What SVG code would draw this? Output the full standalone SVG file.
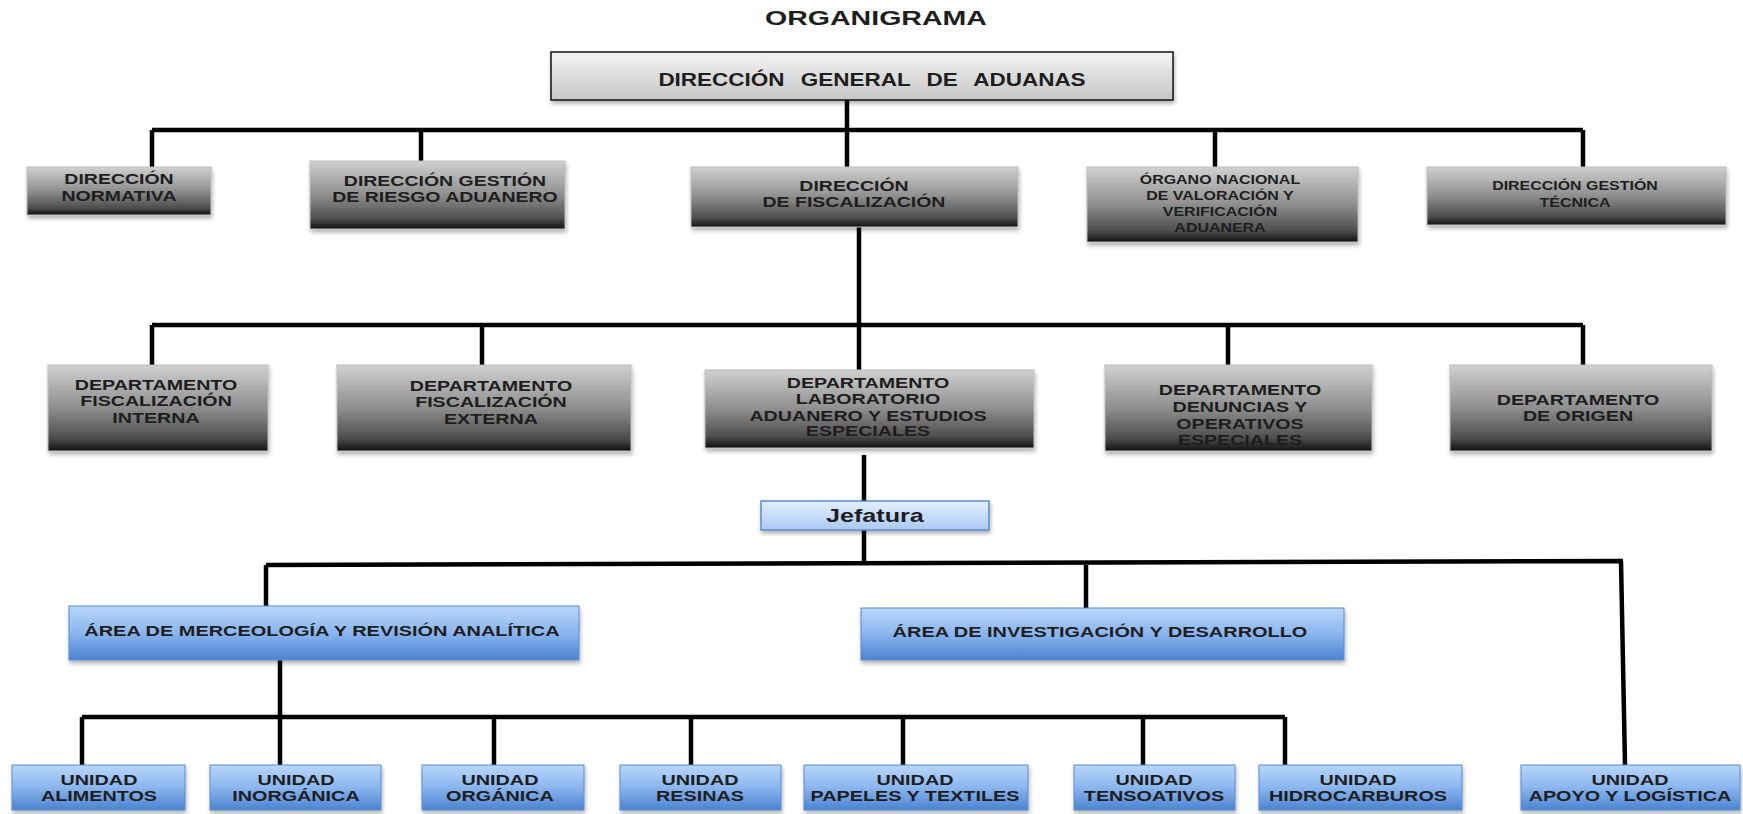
<svg xmlns="http://www.w3.org/2000/svg" width="1743" height="814" viewBox="0 0 1743 814">
<defs>
<linearGradient id="gGray" x1="0" y1="0" x2="0" y2="1">
<stop offset="0" stop-color="#d0d0d0"/>
<stop offset="0.5" stop-color="#8e8e8e"/>
<stop offset="0.85" stop-color="#4e4e4e"/>
<stop offset="1" stop-color="#111111"/>
</linearGradient>
<linearGradient id="gTop" x1="0" y1="0" x2="0" y2="1">
<stop offset="0" stop-color="#f4f4f4"/>
<stop offset="1" stop-color="#c6c6c6"/>
</linearGradient>
<linearGradient id="gBlue" x1="0" y1="0" x2="0" y2="1">
<stop offset="0" stop-color="#b9d6fb"/>
<stop offset="0.5" stop-color="#8ab5ee"/>
<stop offset="1" stop-color="#4b83d0"/>
</linearGradient>
<linearGradient id="gJef" x1="0" y1="0" x2="0" y2="1">
<stop offset="0" stop-color="#e4efff"/>
<stop offset="1" stop-color="#a9c9f5"/>
</linearGradient>
<filter id="sh" x="-5%" y="-10%" width="110%" height="130%">
<feDropShadow dx="1" dy="3" stdDeviation="2" flood-color="#000" flood-opacity="0.3"/>
</filter>
</defs>
<style>
text{font-family:"Liberation Sans",Arial,sans-serif;font-weight:bold;fill:#1e1e1e;text-anchor:middle;transform-box:fill-box;transform-origin:center}
.gray{fill:url(#gGray);stroke:#bdbdbd;stroke-width:1;filter:url(#sh)}
.blue{fill:url(#gBlue);stroke:#5a8bd0;stroke-width:1;filter:url(#sh)}
.title{font-size:21px;transform:scaleX(1.36)}
.top{font-size:18px;word-spacing:8px;transform:scaleX(1.25)}
.t2{font-size:15px;transform:scaleX(1.3)}
.t2s{font-size:12px;transform:scaleX(1.33)}
.t3{font-size:15px;transform:scaleX(1.31)}
.tu{font-size:15px;transform:scaleX(1.32)}
.ta{font-size:15px;transform:scaleX(1.33)}
.tj{font-size:18px;transform:scaleX(1.4)}
.conn{fill:none;stroke:#000;stroke-width:4.5}
</style>
<rect width="1743" height="814" fill="#ffffff"/>
<text class="title" x="876" y="25">ORGANIGRAMA</text>

<g id="connectors">
<path class="conn" d="M847 100V130M152 130H1583M152 130V167M421 130V161M847 130V167M1215 130V167M1583 130V167"/>
<path class="conn" d="M859 227V325M152 325H1583M152 325V365M482 325V365M859 325V370M1228 325V365M1583 325V365"/>
<path class="conn" d="M864 455V501M864 530V565M266 565L1623 561M266 565V606M1086 564V608M1621 561L1625 765"/>
<path class="conn" d="M280 660V717M82 717H1285M82 717V765M280 717V765M494 717V765M691 717V765M903 717V765M1143 717V765M1285 717V765"/>
</g>

<g id="n-direccion-general">
<rect x="551" y="52" width="622" height="48" fill="url(#gTop)" stroke="#111" stroke-width="1.5" filter="url(#sh)"/>
<text class="top" x="872" y="86">DIRECCIÓN GENERAL DE ADUANAS</text>
</g>

<g id="n-dir-normativa">
<rect class="gray" x="27" y="167" width="184" height="48"/>
<text class="t2" x="119" y="184">DIRECCIÓN</text>
<text class="t2" x="119" y="201">NORMATIVA</text>
</g>
<g id="n-dir-riesgo">
<rect class="gray" x="310" y="161" width="255" height="68"/>
<text class="t2" x="445" y="186">DIRECCIÓN GESTIÓN</text>
<text class="t2" x="445" y="202">DE RIESGO ADUANERO</text>
</g>
<g id="n-dir-fiscalizacion">
<rect class="gray" x="691" y="167" width="327" height="60"/>
<text class="t2" x="854" y="191">DIRECCIÓN</text>
<text class="t2" x="854" y="207">DE FISCALIZACIÓN</text>
</g>
<g id="n-organo">
<rect class="gray" x="1087" y="167" width="271" height="75"/>
<text class="t2s" x="1220" y="184">ÓRGANO NACIONAL</text>
<text class="t2s" x="1220" y="200">DE VALORACIÓN Y</text>
<text class="t2s" x="1220" y="216">VERIFICACIÓN</text>
<text class="t2s" x="1220" y="232">ADUANERA</text>
</g>
<g id="n-dir-tecnica">
<rect class="gray" x="1427" y="167" width="299" height="58"/>
<text class="t2s" x="1575" y="190">DIRECCIÓN GESTIÓN</text>
<text class="t2s" x="1575" y="207">TÉCNICA</text>
</g>

<g id="n-dep-interna">
<rect class="gray" x="48" y="365" width="220" height="86"/>
<text class="t3" x="156" y="390">DEPARTAMENTO</text>
<text class="t3" x="156" y="406">FISCALIZACIÓN</text>
<text class="t3" x="156" y="423">INTERNA</text>
</g>
<g id="n-dep-externa">
<rect class="gray" x="337" y="365" width="294" height="86"/>
<text class="t3" x="491" y="391">DEPARTAMENTO</text>
<text class="t3" x="491" y="407">FISCALIZACIÓN</text>
<text class="t3" x="491" y="424">EXTERNA</text>
</g>
<g id="n-dep-laboratorio">
<rect class="gray" x="705" y="370" width="329" height="78"/>
<text class="t3" x="868" y="388">DEPARTAMENTO</text>
<text class="t3" x="868" y="404">LABORATORIO</text>
<text class="t3" x="868" y="421">ADUANERO Y ESTUDIOS</text>
<text class="t3" x="868" y="436">ESPECIALES</text>
</g>
<g id="n-dep-denuncias">
<rect class="gray" x="1105" y="365" width="267" height="86"/>
<text class="t3" x="1240" y="395">DEPARTAMENTO</text>
<text class="t3" x="1240" y="412">DENUNCIAS Y</text>
<text class="t3" x="1240" y="429">OPERATIVOS</text>
<text class="t3" x="1240" y="445">ESPECIALES</text>
</g>
<g id="n-dep-origen">
<rect class="gray" x="1450" y="365" width="262" height="86"/>
<text class="t3" x="1578" y="405">DEPARTAMENTO</text>
<text class="t3" x="1578" y="421">DE ORIGEN</text>
</g>

<g id="n-jefatura">
<rect x="761" y="501" width="228" height="29" fill="url(#gJef)" stroke="#5a8bd0" stroke-width="1.5" filter="url(#sh)"/>
<text class="tj" x="875" y="522">Jefatura</text>
</g>

<g id="n-area-merceologia">
<rect class="blue" x="69" y="606" width="510" height="54"/>
<text class="ta" x="322" y="636">ÁREA DE MERCEOLOGÍA Y REVISIÓN ANALÍTICA</text>
</g>
<g id="n-area-investigacion">
<rect class="blue" x="861" y="608" width="483" height="52"/>
<text class="ta" x="1100" y="637">ÁREA DE INVESTIGACIÓN Y DESARROLLO</text>
</g>

<g id="n-u-alimentos">
<rect class="blue" x="12" y="765" width="173" height="45"/>
<text class="tu" x="99" y="785">UNIDAD</text>
<text class="tu" x="99" y="801">ALIMENTOS</text>
</g>
<g id="n-u-inorganica">
<rect class="blue" x="210" y="765" width="171" height="45"/>
<text class="tu" x="296" y="785">UNIDAD</text>
<text class="tu" x="296" y="801">INORGÁNICA</text>
</g>
<g id="n-u-organica">
<rect class="blue" x="422" y="765" width="162" height="45"/>
<text class="tu" x="500" y="785">UNIDAD</text>
<text class="tu" x="500" y="801">ORGÁNICA</text>
</g>
<g id="n-u-resinas">
<rect class="blue" x="620" y="765" width="161" height="45"/>
<text class="tu" x="700" y="785">UNIDAD</text>
<text class="tu" x="700" y="801">RESINAS</text>
</g>
<g id="n-u-papeles">
<rect class="blue" x="804" y="765" width="224" height="45"/>
<text class="tu" x="915" y="785">UNIDAD</text>
<text class="tu" x="915" y="801">PAPELES Y TEXTILES</text>
</g>
<g id="n-u-tensoativos">
<rect class="blue" x="1074" y="765" width="161" height="45"/>
<text class="tu" x="1154" y="785">UNIDAD</text>
<text class="tu" x="1154" y="801">TENSOATIVOS</text>
</g>
<g id="n-u-hidrocarburos">
<rect class="blue" x="1259" y="765" width="203" height="45"/>
<text class="tu" x="1358" y="785">UNIDAD</text>
<text class="tu" x="1358" y="801">HIDROCARBUROS</text>
</g>
<g id="n-u-apoyo">
<rect class="blue" x="1521" y="765" width="219" height="45"/>
<text class="tu" x="1630" y="785">UNIDAD</text>
<text class="tu" x="1630" y="801">APOYO Y LOGÍSTICA</text>
</g>
</svg>
